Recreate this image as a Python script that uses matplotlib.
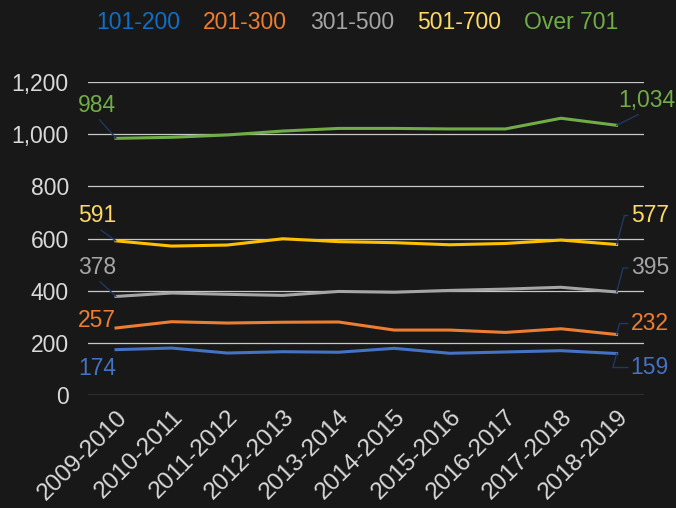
"""Line chart: counts by range band per school year, dark theme."""

import matplotlib

matplotlib.use("Agg")
import matplotlib.pyplot as plt

plt.rcParams["font.family"] = ["Liberation Sans", "DejaVu Sans"]

years = [
    "2009-2010", "2010-2011", "2011-2012", "2012-2013", "2013-2014",
    "2014-2015", "2015-2016", "2016-2017", "2017-2018", "2018-2019",
]
band_101_200 = [174, 180, 161, 166, 164, 179, 160, 165, 170, 159]
band_201_300 = [257, 281, 276, 279, 280, 249, 249, 240, 254, 232]
band_301_500 = [378, 391, 386, 382, 397, 394, 401, 406, 413, 395]
band_501_700 = [591, 571, 575, 599, 588, 584, 576, 581, 594, 577]
band_over_701 = [984, 988, 997, 1012, 1022, 1022, 1020, 1020, 1061, 1034]
labels = ["101-200", "201-300", "301-500", "501-700", "Over 701"]

BG = "#181818"
TEXT = "#D9D9D9"
LEADER = "#1F3864"
LINE_COLORS = ["#4472C4", "#ED7D31", "#A5A5A5", "#FFC000", "#70AD47"]
LABEL_COLORS = ["#4472C4", "#ED7D31", "#A5A5A5", "#FFD966", "#70AD47"]
LEGEND_COLORS = ["#0F6FC6", "#ED7D31", "#A5A5A5", "#FFD966", "#70AD47"]

series = [band_101_200, band_201_300, band_301_500, band_501_700, band_over_701]

fig = plt.figure(figsize=(6.76, 5.08), dpi=100, facecolor=BG)
ax = fig.add_axes([0.1305, 0.2224, 0.8228, 0.6162], facecolor=BG)

x = list(range(len(years)))
for vals, color, name in zip(series, LINE_COLORS, labels):
    ax.plot(x, vals, color=color, lw=2.2, label=name, zorder=3)

ax.set_xlim(-0.5, len(years) - 0.5)
ax.set_ylim(0, 1200)
ax.set_yticks(range(0, 1201, 200))
ax.set_yticklabels([f"{v:,}" for v in range(0, 1201, 200)])
ax.set_xticks(x)
ax.set_xticklabels(years, rotation=45, ha="right", rotation_mode="anchor")
ax.grid(True, axis="y", color="#C8C8C8", lw=0.9, zorder=1)
for s in ax.spines.values():
    s.set_visible(False)
ax.tick_params(axis="both", length=0, labelcolor=TEXT)
ax.tick_params(axis="y", pad=14, labelsize=16.5)
ax.tick_params(axis="x", pad=8, labelsize=17.5)

leader = dict(arrowstyle="-", color=LEADER, lw=1, shrinkA=0, shrinkB=0)

# left-end labels (offsets in pixels)
left_offsets = [(-19, -19), (-19, 7), (-19, 29), (-19, 25), (-19, 33)]
for vals, color, off, idx in zip(series, LABEL_COLORS, left_offsets, range(5)):
    v = vals[0]
    props = None if idx < 2 else dict(leader, relpos=(0.5, 0.0))
    ax.annotate(f"{v:,}", xy=(0, v), xytext=off, textcoords="offset pixels",
                ha="center", va="center", color=color, fontsize=16.5,
                arrowprops=props, zorder=4)

# right-end labels
right_offsets = [(14, -14), (14, 11), (14, 24), (14, 29), (30, 25)]
for vals, color, off, idx in zip(series, LABEL_COLORS, right_offsets, range(5)):
    v = vals[-1]
    if idx == 4:
        props = dict(leader, relpos=(0.45, 0.0))
        ha = "center"
    else:
        props = dict(leader, relpos=(0.0, 0.5),
                     connectionstyle="angle,angleA=0,angleB=75,rad=0")
        ha = "left"
    ax.annotate(f"{v:,}", xy=(x[-1], v), xytext=off, textcoords="offset pixels",
                ha=ha, va="center", color=color, fontsize=16.5,
                arrowprops=props, zorder=4)

leg = fig.legend(loc="center", bbox_to_anchor=(0.528, 0.955), ncol=5,
                 frameon=False, handlelength=0, handletextpad=0,
                 columnspacing=1.0, fontsize=16.5, labelcolor=LEGEND_COLORS)
for h in leg.legend_handles:
    h.set_visible(False)

fig.savefig("out.png", dpi=100, facecolor=BG)
